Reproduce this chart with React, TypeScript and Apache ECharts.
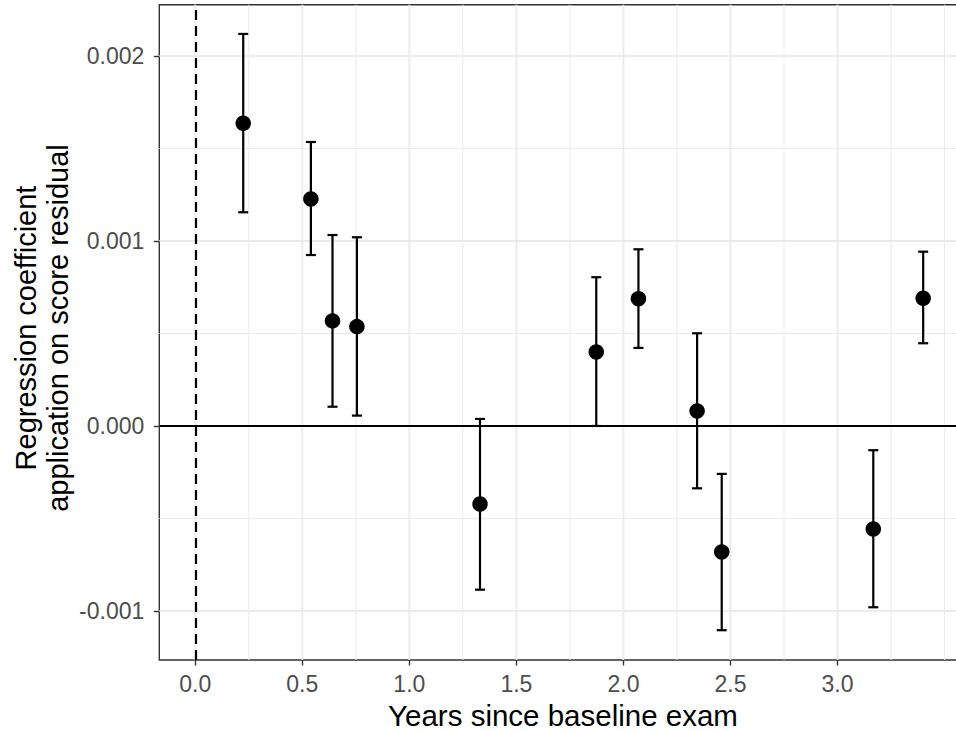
import React, { useEffect, useRef } from "react";
import * as echarts from "echarts";

// Data
const years = [0.224, 0.54, 0.641, 0.755, 1.33, 1.873, 2.07, 2.344, 2.459, 3.167, 3.4];
const coef = [0.001636, 0.001227, 0.000568, 0.000537, -0.000422, 0.0004, 0.000688, 0.000081, -0.000681, -0.000557, 0.00069];
const lower = [0.001155, 0.000924, 0.000104, 0.000056, -0.000885, 0.0, 0.000422, -0.000337, -0.001104, -0.00098, 0.000447];
const upper = [0.002119, 0.001535, 0.001032, 0.00102, 0.000038, 0.000804, 0.000955, 0.000501, -0.000259, -0.000131, 0.000942];

const xTicks = [0, 0.5, 1, 1.5, 2, 2.5, 3];
const xTickLabels = ["0.0", "0.5", "1.0", "1.5", "2.0", "2.5", "3.0"];
const xMinorGrid = [0.25, 0.75, 1.25, 1.75, 2.25, 2.75, 3.25, 3.5];
const yTicks = [-0.001, 0, 0.001, 0.002];
const yTickLabels = ["-0.001", "0.000", "0.001", "0.002"];
const yMinorGrid = [-0.0005, 0.0005, 0.0015];

const X_MIN = -0.168;
const X_MAX = 3.572;
const Y_MIN = -0.001265;
const Y_MAX = 0.002277;

const FONT = "'Liberation Sans', Arial, sans-serif";

function findLabel(values: number[], labels: string[], v: number) {
  const i = values.findIndex((t) => Math.abs(t - v) < 1e-9);
  return i >= 0 ? labels[i] : "";
}

function vGridSeries(vals: number[], width: number) {
  return {
    type: "custom",
    silent: true,
    z: 0,
    data: vals.map((v) => [v, 0]),
    encode: { x: 0, y: 1 },
    renderItem: (params: any, api: any) => {
      const cs = params.coordSys;
      const p = api.coord([api.value(0), 0]);
      return {
        type: "line",
        shape: { x1: p[0], y1: cs.y, x2: p[0], y2: cs.y + cs.height },
        style: { stroke: "#EBEBEB", lineWidth: width },
      };
    },
  };
}

function hGridSeries(vals: number[], width: number) {
  return {
    type: "custom",
    silent: true,
    z: 0,
    data: vals.map((v) => [0, v]),
    encode: { x: 0, y: 1 },
    renderItem: (params: any, api: any) => {
      const cs = params.coordSys;
      const p = api.coord([0, api.value(1)]);
      return {
        type: "line",
        shape: { x1: cs.x, y1: p[1], x2: cs.x + cs.width, y2: p[1] },
        style: { stroke: "#EBEBEB", lineWidth: width },
      };
    },
  };
}

export default function App() {
  const ref = useRef<HTMLDivElement>(null);

  useEffect(() => {
    if (!ref.current) return;
    const chart = echarts.init(ref.current, null, { renderer: "svg" });

    const errData = years.map((x, i) => [x, lower[i], upper[i]]);
    const pointData = years.map((x, i) => [x, coef[i]]);

    chart.setOption({
      animation: false,
      backgroundColor: "#FFFFFF",
      grid: {
        left: 159.3,
        top: 4.7,
        right: 6,
        bottom: 71,
        show: true,
        borderColor: "#333333",
        borderWidth: 1.4,
        backgroundColor: "#FFFFFF",
      },
      xAxis: {
        type: "value",
        min: X_MIN,
        max: X_MAX,
        axisLine: { show: false, onZero: false },
        splitLine: { show: false },
        axisTick: {
          show: true,
          customValues: xTicks,
          length: 5.5,
          lineStyle: { color: "#333333", width: 1.4 },
        },
        axisLabel: {
          customValues: xTicks,
          formatter: (v: number) => findLabel(xTicks, xTickLabels, v),
          color: "#4D4D4D",
          fontSize: 23,
          fontFamily: FONT,
          margin: 12,
        },
      },
      yAxis: {
        type: "value",
        min: Y_MIN,
        max: Y_MAX,
        axisLine: { show: false, onZero: false },
        splitLine: { show: false },
        axisTick: {
          show: true,
          customValues: yTicks,
          length: 5.5,
          lineStyle: { color: "#333333", width: 1.4 },
        },
        axisLabel: {
          customValues: yTicks,
          formatter: (v: number) => findLabel(yTicks, yTickLabels, v),
          color: "#4D4D4D",
          fontSize: 23,
          fontFamily: FONT,
          margin: 15,
        },
      },
      graphic: [
        {
          type: "text",
          x: 563,
          y: 715,
          style: {
            text: "Years since baseline exam",
            fill: "#000000",
            font: `29.5px ${FONT}`,
            textAlign: "center",
            verticalAlign: "middle",
          },
        },
        {
          type: "text",
          x: 42,
          y: 328,
          rotation: Math.PI / 2,
          style: {
            text: "Regression coefficient\napplication on score residual",
            fill: "#000000",
            font: `29px ${FONT}`,
            lineHeight: 32,
            textAlign: "center",
            verticalAlign: "middle",
          },
        },
      ],
      series: [
        vGridSeries(xMinorGrid, 1),
        hGridSeries(yMinorGrid, 1),
        vGridSeries(xTicks, 1.9),
        hGridSeries(yTicks, 1.9),
        {
          type: "custom",
          z: 3,
          data: errData,
          encode: { x: 0, y: [1, 2] },
          renderItem: (params: any, api: any) => {
            const x = api.value(0);
            const pLo = api.coord([x, api.value(1)]);
            const pHi = api.coord([x, api.value(2)]);
            const half = 5;
            const style = { stroke: "#000000", lineWidth: 2.2 };
            return {
              type: "group",
              children: [
                { type: "line", shape: { x1: pLo[0], y1: pLo[1], x2: pHi[0], y2: pHi[1] }, style },
                { type: "line", shape: { x1: pLo[0] - half, y1: pLo[1], x2: pLo[0] + half, y2: pLo[1] }, style },
                { type: "line", shape: { x1: pHi[0] - half, y1: pHi[1], x2: pHi[0] + half, y2: pHi[1] }, style },
              ],
            };
          },
          markLine: {
            silent: true,
            symbol: ["none", "none"],
            label: { show: false },
            data: [
              { yAxis: 0, lineStyle: { color: "#000000", width: 2.2, type: "solid" } },
              { xAxis: 0, lineStyle: { color: "#000000", width: 2.2, type: [10, 6] } },
            ],
          },
        },
        {
          type: "scatter",
          z: 4,
          data: pointData,
          symbol: "circle",
          symbolSize: 15.5,
          itemStyle: { color: "#000000", opacity: 1 },
        },
      ],
    });

    return () => {
      chart.dispose();
    };
  }, []);

  return (
    <div
      style={{
        position: "fixed",
        left: 0,
        top: 0,
        width: 956,
        height: 731,
        overflow: "hidden",
        background: "#FFFFFF",
      }}
    >
      <div ref={ref} style={{ width: 966, height: 731 }} />
    </div>
  );
}
